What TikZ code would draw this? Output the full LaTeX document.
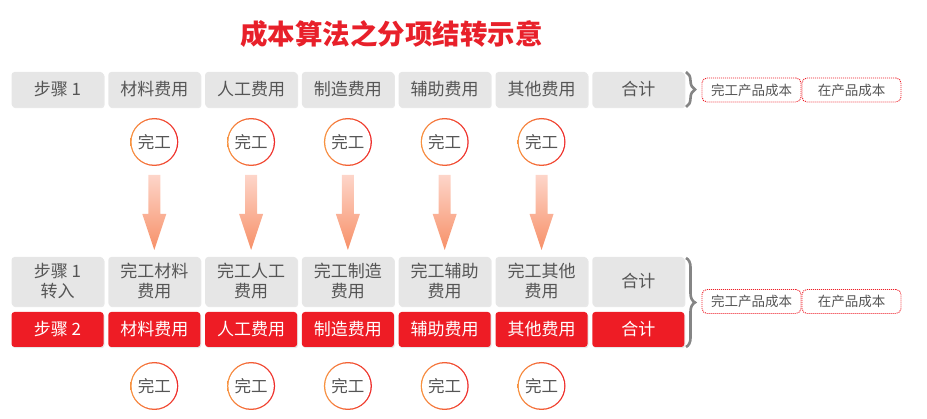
\documentclass[tikz,border=0pt]{standalone}
\usepackage{fontspec}
\setmainfont{Noto Sans CJK SC}
\usetikzlibrary{shadows,decorations.pathreplacing}
\definecolor{boxgray}{HTML}{E6E6E6}
\definecolor{txtgray}{HTML}{555555}
\definecolor{mred}{HTML}{EE1C25}
\definecolor{tred}{HTML}{E8202A}
\definecolor{corange}{HTML}{F7923F}
\definecolor{cred}{HTML}{EE2A2A}
\definecolor{atop}{HTML}{FDD5C9}
\definecolor{abot}{HTML}{F79068}
\definecolor{bracegray}{HTML}{858585}
\begin{document}
\begin{tikzpicture}[x=1pt,y=-1pt,
  cell/.style={rectangle, rounded corners=3pt, minimum width=92pt, minimum height=35pt, inner sep=0pt,
    font=\fontsize{17}{20}\selectfont, drop shadow={opacity=0.18, shadow xshift=1pt, shadow yshift=-1.2pt}},
  graycell/.style={cell, fill=boxgray, text=txtgray},
  redcell/.style={cell, fill=mred, text=white},
  tallcell/.style={graycell, minimum height=49pt, align=center},
  tag/.style={draw=mred, line width=0.9pt, dash pattern=on 1pt off 1pt, rounded corners=5pt, fill=white,
    minimum width=99pt, minimum height=24pt, inner sep=0pt, font=\fontsize{13.5}{15}\selectfont, text=txtgray},
  done/.style={circle, minimum size=46pt, inner sep=0pt, font=\fontsize{16.5}{18}\selectfont, text=txtgray},
  bracestyle/.style={decorate, decoration={brace, amplitude=9pt}, line width=2.6pt, draw=bracegray},
  title/.style={font=\fontsize{27.5}{32}\selectfont\bfseries, text=tred}
]
\useasboundingbox (0,0) rectangle (927,419);

\node[title] (title) at (391.5,34.5) {成本算法之分项结转示意};

% row 1
\node[graycell] (a1) at (57.5,89.5) {步骤 1};
\foreach \i/\t in {2/材料费用,3/人工费用,4/制造费用,5/辅助费用,6/其他费用,7/合计}{
  \node[graycell] (a\i) at ({57.5+96.8*(\i-1)},89.5) {\t};
}
% row 2
\node[tallcell] (b1) at (57.5,281.5) {步骤 1\\转入};
\foreach \i/\t in {2/完工材料,3/完工人工,4/完工制造,5/完工辅助,6/完工其他}{
  \node[tallcell] (b\i) at ({57.5+96.8*(\i-1)},281.5) {\t\\费用};
}
\node[tallcell] (b7) at ({57.5+96.8*6},281.5) {合计};
% row 3
\node[redcell] (r1) at (57.5,329.5) {步骤 2};
\foreach \i/\t in {2/材料费用,3/人工费用,4/制造费用,5/辅助费用,6/其他费用,7/合计}{
  \node[redcell] (r\i) at ({57.5+96.8*(\i-1)},329.5) {\t};
}

% circles and arrows
\foreach \i in {2,...,6}{
  \pgfmathsetmacro{\cx}{57.5+96.8*(\i-1)}
  \shade[left color=corange, right color=cred] (\cx,142) circle (24);
  \fill[white] (\cx,142) circle (22.7);
  \node[done] (u\i) at (\cx,142) {完工};
  \shade[left color=corange, right color=cred] (\cx,386) circle (24);
  \fill[white] (\cx,386) circle (22.7);
  \node[done] (d\i) at (\cx,386) {完工};
  \shade[top color=atop, bottom color=abot]
    (\cx-6,175) -- (\cx+6,175) -- (\cx+6,214) -- (\cx+12,214) -- (\cx,250) -- (\cx-12,214) -- (\cx-6,214) -- cycle;
}

% braces
\coordinate (t1) at (686,72);
\coordinate (t2) at (686,107);
\draw[bracestyle] (t1) -- (t2);
\coordinate (s1) at (686,258);
\coordinate (s2) at (686,347);
\draw[bracestyle] (s1) -- (s2);

% tags
\node[tag] (g1) at (751.5,90) {完工产品成本};
\node[tag] (g2) at (851.5,90) {在产品成本};
\node[tag] (h1) at (751.5,301.5) {完工产品成本};
\node[tag] (h2) at (851.5,301.5) {在产品成本};
\end{tikzpicture}
\end{document}
